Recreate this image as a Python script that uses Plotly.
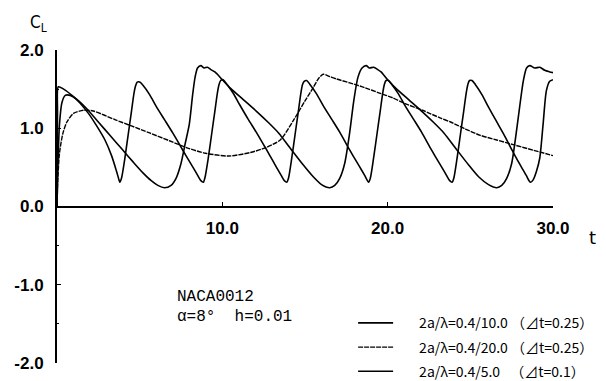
import plotly.graph_objects as go

# ---- data ----
t10 = [0, 0.05, 0.15, 0.3, 0.5, 0.8, 1.2, 1.8, 2.5, 3.2, 3.9, 4.6, 5.2, 5.7, 6.1, 6.5, 6.9, 7.2, 7.5, 7.75,
       8.0, 8.2, 8.35, 8.5, 8.7, 8.9, 9.1, 9.3, 9.55, 10.0, 10.5, 11.3, 12.1, 12.8, 13.4, 14.2, 14.9, 15.5, 16.0, 16.5,
       16.8, 17.1, 17.4, 17.7, 17.95, 18.2, 18.45, 18.7, 18.9, 19.15, 19.4, 19.6, 20.0, 20.5, 21.3, 22.1, 22.8, 23.4, 24.2, 24.9,
       25.5, 26.1, 26.6, 26.9, 27.2, 27.5, 27.75, 28.0, 28.2, 28.4, 28.6, 28.9, 29.2, 29.5, 29.8, 30.0]
cl10 = [0.0, 0.5, 1.05, 1.33, 1.42, 1.42, 1.37, 1.25, 1.08, 0.91, 0.74, 0.57, 0.43, 0.33, 0.27, 0.24, 0.27, 0.36, 0.55, 0.8,
        1.05, 1.42, 1.65, 1.77, 1.80, 1.77, 1.78, 1.75, 1.72, 1.62, 1.51, 1.36, 1.21, 1.07, 0.94, 0.72, 0.53, 0.38, 0.28, 0.24,
        0.27, 0.36, 0.55, 0.94, 1.35, 1.65, 1.77, 1.80, 1.77, 1.78, 1.75, 1.72, 1.62, 1.51, 1.36, 1.21, 1.07, 0.94, 0.72, 0.53,
        0.38, 0.28, 0.24, 0.27, 0.36, 0.55, 0.9, 1.3, 1.6, 1.77, 1.80, 1.77, 1.78, 1.74, 1.72, 1.71]

t20 = [0, 0.05, 0.15, 0.35, 0.6, 1.0, 1.6, 2.2, 3.5, 4.5, 5.6, 6.8, 8.0, 9.0, 10.4, 11.7, 12.6, 13.5, 14.3, 15.0,
       15.5, 15.8, 16.1, 16.5, 16.9, 17.7, 18.6, 19.5, 20.3, 21.0, 22.1, 23.2, 23.8, 24.7, 25.6, 26.6, 27.6, 28.8, 30.0]
cl20 = [0.0, 0.35, 0.68, 0.93, 1.08, 1.19, 1.23, 1.22, 1.11, 1.03, 0.94, 0.84, 0.74, 0.68, 0.645, 0.69, 0.75, 0.85, 1.1, 1.35,
        1.52, 1.63, 1.69, 1.66, 1.63, 1.58, 1.52, 1.45, 1.39, 1.32, 1.23, 1.13, 1.08, 0.99, 0.91, 0.85, 0.79, 0.72, 0.65]

t5 = [0, 0.03, 0.08, 0.4, 0.9, 1.4, 1.9, 2.4, 2.9, 3.3, 3.6, 3.75,
      3.8, 3.9, 4.1, 4.3, 4.5, 4.65, 4.75, 4.85, 5.0, 5.2, 5.6, 6.0, 6.5, 7.0, 7.5, 7.8, 8.2, 8.5, 8.7,
      8.85, 8.95, 9.15, 9.35, 9.55, 9.7, 9.8, 9.9, 10.05, 10.25, 10.65, 11.05, 11.55, 12.05, 12.55, 12.85, 13.25, 13.55, 13.75,
      13.9, 14.0, 14.2, 14.4, 14.6, 14.75, 14.85, 14.95, 15.1, 15.3, 15.7, 16.1, 16.6, 17.1, 17.6, 17.9, 18.3, 18.6,
      18.85, 18.95, 19.15, 19.35, 19.55, 19.7, 19.8, 19.9, 20.05, 20.25, 20.65, 21.05, 21.55, 22.05, 22.55, 22.85, 23.25, 23.55, 23.75,
      23.9, 24.0, 24.2, 24.4, 24.6, 24.75, 24.85, 24.95, 25.1, 25.3, 25.7, 26.1, 26.55, 27.0, 27.45, 27.75, 28.1, 28.4, 28.55,
      28.65, 28.8, 29.0, 29.2, 29.4, 29.6, 29.8, 30.0]
cl5 = [0.0, 1.2, 1.53, 1.50, 1.42, 1.32, 1.19, 1.03, 0.85, 0.65, 0.45, 0.34,
       0.31, 0.36, 0.61, 0.91, 1.21, 1.44, 1.54, 1.59, 1.59, 1.55, 1.43, 1.28, 1.11, 0.94, 0.76, 0.65, 0.51, 0.40, 0.33,
       0.31, 0.37, 0.62, 0.92, 1.22, 1.45, 1.56, 1.61, 1.62, 1.57, 1.45, 1.30, 1.12, 0.95, 0.77, 0.66, 0.51, 0.40, 0.33,
       0.31, 0.36, 0.62, 0.92, 1.22, 1.45, 1.56, 1.60, 1.61, 1.56, 1.44, 1.29, 1.12, 0.95, 0.76, 0.65, 0.51, 0.40,
       0.31, 0.36, 0.62, 0.92, 1.22, 1.45, 1.56, 1.61, 1.61, 1.56, 1.44, 1.29, 1.12, 0.95, 0.76, 0.65, 0.51, 0.40, 0.33,
       0.31, 0.36, 0.62, 0.92, 1.22, 1.45, 1.56, 1.61, 1.61, 1.56, 1.43, 1.27, 1.10, 0.93, 0.75, 0.63, 0.50, 0.39, 0.33,
       0.31, 0.34, 0.45, 0.62, 1.05, 1.48, 1.60, 1.62]

pad = "\u2003\u2002"
names = [pad + "2a/λ=0.4/10.0 （⊿t=0.25）",
         pad + "2a/λ=0.4/20.0 （⊿t=0.25）",
         pad + "2a/λ=0.4/5.0\u2002\u00a0（⊿t=0.1）"]

y_ticks = [-2, -1, 0, 1, 2]
y_ticktext = ["<b>-2.0</b>", "<b>-1.0</b>", "<b>0.0</b>", "<b>1.0</b>", "<b>2.0</b>"]
x_ticks = [10, 20, 30]
x_ticktext = ["<b>10.0</b>", "<b>20.0</b>", "<b>30.0</b>"]

axis_font = dict(family="Liberation Sans, Arial, sans-serif", size=17, color="black")
legend_font = dict(family="Noto Sans CJK JP, Liberation Sans", size=14, color="black")

fig = go.Figure()
fig.add_trace(go.Scatter(x=t10, y=cl10, mode="lines", name=names[0], legendgroup="a",
                         line=dict(color="black", width=1.6, shape="spline", smoothing=0.7)))
fig.add_trace(go.Scatter(x=t20, y=cl20, mode="lines", name=names[1], legendgroup="b",
                         line=dict(color="black", width=1.4, dash="5px,1px", shape="spline", smoothing=0.7)))
fig.add_trace(go.Scatter(x=t5, y=cl5, mode="lines", name=names[2], legendgroup="c",
                         line=dict(color="black", width=1.6, shape="spline", smoothing=0.7)))

fig.update_layout(
    width=606, height=381,
    margin=dict(l=57, r=53, t=50, b=18, autoexpand=False),
    paper_bgcolor="white", plot_bgcolor="white",
    showlegend=True,
    legend=dict(x=0.597, y=0.178, xanchor="left", yanchor="top", font=legend_font,
                bgcolor="rgba(0,0,0,0)", tracegroupgap=3, itemwidth=35),
    xaxis=dict(range=[0, 30], anchor="free", position=0.5, showline=True, linecolor="black", linewidth=1.5,
               showgrid=False, zeroline=False, tickvals=x_ticks, ticktext=x_ticktext, ticks="inside",
               ticklen=4, tickcolor="black", tickfont=axis_font, ticklabelstandoff=6),
    yaxis=dict(range=[-2, 2], showline=True, linecolor="black", linewidth=2, showgrid=False, zeroline=False,
               tickvals=y_ticks, ticktext=y_ticktext, ticks="inside", ticklen=4, tickcolor="black",
               tickfont=axis_font, ticklabelstandoff=8,
               minor=dict(tickvals=[-1.5, -0.5, 0.5, 1.5], ticks="inside", ticklen=2, tickcolor="black")),
    annotations=[
        dict(text="C<sub>L</sub>", x=-0.058, y=1.085, xref="paper", yref="paper", xanchor="left", yanchor="middle",
             showarrow=False,
             font=dict(family="Liberation Sans Narrow, DejaVu Sans Condensed", size=17, color="black")),
        dict(text="t", x=1.079, y=0.40, xref="paper", yref="paper", xanchor="center", yanchor="middle",
             showarrow=False, font=dict(family="DejaVu Sans", size=18, color="black")),
        dict(text="NACA0012", x=0.238, y=0.211, xref="paper", yref="paper", xanchor="left", yanchor="middle",
             showarrow=False, font=dict(family="Liberation Mono", size=16, color="black")),
        dict(text="α=8°  h=0.01", x=0.238, y=0.147, xref="paper", yref="paper", xanchor="left", yanchor="middle",
             showarrow=False, font=dict(family="Liberation Mono", size=16, color="black")),
    ],
)

fig.write_html("out.html")
